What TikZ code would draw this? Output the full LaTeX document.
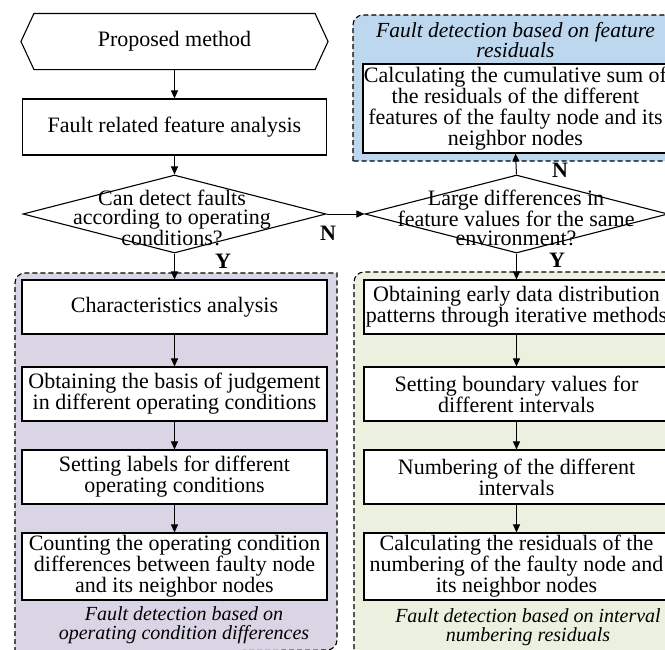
\documentclass[tikz,border=0pt]{standalone}
\usepackage{fontspec}
\setmainfont{Liberation Serif}
\usetikzlibrary{arrows.meta,shapes.geometric}
\definecolor{bluebg}{RGB}{189,215,238}
\definecolor{purplebg}{RGB}{218,213,229}
\definecolor{greenbg}{RGB}{235,241,222}
\begin{document}
\begin{tikzpicture}[x=1pt,y=1pt,
  font=\fontsize{22}{21}\selectfont,
  box/.style={draw, line width=1.1pt, fill=white, minimum width=305pt, minimum height=54pt, inner sep=0pt, align=center},
  dia/.style={draw, line width=1.1pt, diamond, minimum width=303pt, minimum height=78pt, inner sep=0pt, fill=white},
  flow/.style={-{Triangle[length=8pt,width=7pt]}, line width=1pt},
  region/.style={draw=black, dash pattern=on 5pt off 3pt, line width=1.1pt},
  ital/.style={font=\fontsize{20}{19.5}\selectfont\itshape, align=center, inner sep=0pt},
  yn/.style={font=\fontsize{22}{21}\selectfont\bfseries, inner sep=0pt},
  dtext/.style={align=center, inner sep=0pt, font=\fontsize{22}{19.5}\selectfont}
]
\useasboundingbox (0,0) rectangle (665,-649);
\clip (0,0) rectangle (665,-649);

% regions
\path[region, fill=bluebg] (353,-161) -- (353,-25) arc[start angle=180,end angle=90,radius=10] -- (680,-15) -- (680,-161) -- cycle;
\path[region, fill=purplebg] (15,-652) -- (15,-283) arc[start angle=180,end angle=90,radius=10] -- (337,-273) -- (337,-640) arc[start angle=0,end angle=-90,radius=10] -- cycle;
\path[region, fill=greenbg] (354,-665) -- (354,-282) arc[start angle=180,end angle=90,radius=10] -- (680,-272) -- (680,-665) -- cycle;

% top flow
\node[box, minimum width=280pt, minimum height=55pt, draw=none, fill=none] (pm) at (174.5,-41.5) {Proposed method};
\draw[line width=1.1pt] ([xshift=-13pt]pm.west) -- (pm.north west) -- (pm.north east) -- ([xshift=13pt]pm.east) -- (pm.south east) -- (pm.south west) -- cycle;
\node[box, minimum width=304pt, minimum height=56pt] (fr) at (174.5,-127) {Fault related feature analysis};
\node[dia] (d1) at (174.5,-214) {};
\node[dtext] (d1t) at (172,-218) {Can detect faults\\according to operating\\conditions?};
\node[dia] (d2) at (516.5,-214) {};
\node[dtext] (d2t) at (516,-218) {Large differences in\\feature values for the same\\environment?};

% blue
\node[ital, font=\fontsize{21.5}{19}\selectfont\itshape] (bt) at (515.5,-40) {Fault detection based on feature\\residuals};
\node[box, minimum height=89pt] (bb) at (515.5,-108.5) {Calculating the cumulative sum of\\the residuals of the different\\features of the faulty node and its\\neighbor nodes};

% left column
\node[box] (c1) at (174.5,-307) {Characteristics analysis};
\node[box] (c2) at (174.5,-394) {Obtaining the basis of judgement\\in different operating conditions};
\node[box] (c3) at (174.5,-477) {Setting labels for different\\operating conditions};
\node[box, minimum height=67pt] (c4) at (174.5,-566.5) {Counting the operating condition\\differences between faulty node\\and its neighbor nodes};
\node[ital] (lt) at (184,-625) {Fault detection based on\\operating condition differences};

% right column
\node[box] (r1) at (516.5,-307) {Obtaining early data distribution\\patterns through iterative methods};
\node[box] (r2) at (516.5,-394) {Setting boundary values for\\different intervals};
\node[box] (r3) at (516.5,-477) {Numbering of the different\\intervals};
\node[box, minimum height=67pt] (r4) at (516.5,-566.5) {Calculating the residuals of the\\numbering of the faulty node and\\its neighbor nodes};
\node[ital] (rt) at (528,-627) {Fault detection based on interval\\numbering residuals};

% arrows
\draw[flow] (pm.south) -- (fr.north);
\draw[flow] (fr.south) -- (d1.north);
\draw[flow] (d1.east) -- (d2.west);
\draw[flow] (d1.south) -- (c1.north);
\draw[flow] (d2.south) -- (r1.north);
\draw[flow] (d2.north) -- (bb.south);
\draw[flow] (c1.south) -- (c2.north);
\draw[flow] (c2.south) -- (c3.north);
\draw[flow] (c3.south) -- (c4.north);
\draw[flow] (r1.south) -- (r2.north);
\draw[flow] (r2.south) -- (r3.north);
\draw[flow] (r3.south) -- (r4.north);

% labels
\node[yn] (n1) at (328,-233) {N};
\node[yn] (n2) at (560,-170) {N};
\node[yn] (y1) at (223,-261) {Y};
\node[yn] (y2) at (557,-260) {Y};
\end{tikzpicture}
\end{document}
